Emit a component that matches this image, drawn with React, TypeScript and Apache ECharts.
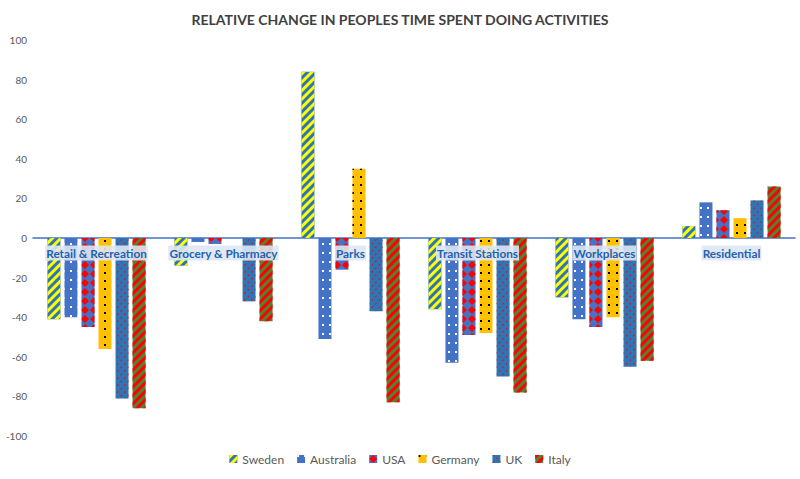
import React, { useEffect, useRef } from "react";
import * as echarts from "echarts";

const categories = [
  "Retail & Recreation",
  "Grocery & Pharmacy",
  "Parks",
  "Transit Stations",
  "Workplaces",
  "Residential",
];
const countries = ["Sweden", "Australia", "USA", "Germany", "UK", "Italy"];
const sweden = [-41, -14, 84, -36, -30, 6];
const australia = [-40, -2, -51, -63, -41, 18];
const usa = [-45, -3, -16, -49, -45, 14];
const germany = [-56, 0, 35, -48, -40, 10];
const uk = [-81, -32, -37, -70, -65, 19];
const italy = [-86, -42, -83, -78, -62, 26];
const yTicks = { min: -100, max: 100, interval: 20 };

const seriesData = [sweden, australia, usa, germany, uk, italy];

const R = -Math.PI / 4;
const styles: any[] = [
  {
    color: "#2E75B6",
    decal: { symbol: "rect", symbolSize: 1, color: "#FFFF00", dashArrayX: [1, 0], dashArrayY: [2.5, 2.5], rotation: R },
  },
  {
    color: "#4472C4",
    decal: { symbol: "rect", symbolSize: 1, color: "#FFFFFF", dashArrayX: [1.5, 5], dashArrayY: [1.5, 6.5], rotation: 0 },
  },
  {
    color: "#4472C4",
    decal: { symbol: "diamond", symbolSize: 1, color: "#FF0000", dashArrayX: [8, 0.01], dashArrayY: [8, 0.01], rotation: 0 },
  },
  {
    color: "#FFC000",
    decal: { symbol: "rect", symbolSize: 1, color: "#000000", dashArrayX: [1.5, 6], dashArrayY: [1.5, 6], rotation: 0 },
  },
  {
    color: "#2E75B6",
    decal: { symbol: "rect", symbolSize: 1, color: "#FF0000", dashArrayX: [[2, 3]], dashArrayY: [1, 4], rotation: R },
  },
  {
    color: "#548235",
    decal: { symbol: "rect", symbolSize: 1, color: "#FF0000", dashArrayX: [1, 0], dashArrayY: [2.5, 3], rotation: R },
  },
];

export default function App() {
  const ref = useRef<HTMLDivElement>(null);
  useEffect(() => {
    if (!ref.current) return;
    const chart = echarts.init(ref.current, null, { renderer: "svg" });
    chart.setOption({
      animation: false,
      backgroundColor: "#FFFFFF",
      textStyle: { fontFamily: "Lato, 'Open Sans', sans-serif" },
      title: {
        text: "RELATIVE CHANGE IN PEOPLES TIME SPENT DOING ACTIVITIES",
        left: "center",
        top: 7,
        textStyle: { fontSize: 14, fontWeight: "bold", color: "#404040", fontFamily: "Lato, sans-serif" },
      },
      legend: {
        bottom: 9,
        left: "center",
        icon: "rect",
        itemWidth: 8,
        itemHeight: 8,
        itemGap: 13,
        textStyle: { color: "#595959", fontSize: 12 },
        data: countries,
      },
      grid: { left: 33, right: 5, top: 40, bottom: 43 },
      xAxis: {
        type: "category",
        data: categories,
        axisLine: { onZero: true, lineStyle: { color: "#4472C4", width: 1.5 } },
        axisTick: { show: false },
        axisLabel: { show: false },
        splitLine: { show: false },
      },
      yAxis: {
        type: "value",
        min: yTicks.min,
        max: yTicks.max,
        interval: yTicks.interval,
        axisLine: { show: false },
        axisTick: { show: false },
        splitLine: { show: false },
        axisLabel: { color: "#595959", fontSize: 10, margin: 6 },
      },
      series: [
        ...countries.map((name, i) => ({
          name,
          type: "bar",
          data: seriesData[i],
          barWidth: 13,
          barGap: "31%",
          itemStyle: { ...styles[i] },
        })),
        {
          name: "categoryLabels",
          type: "scatter",
          z: 20,
          symbolSize: 1,
          itemStyle: { color: "rgba(0,0,0,0)" },
          silent: true,
          data: categories.map((c) => [c, 0]),
          label: {
            show: true,
            position: "bottom",
            distance: 7,
            formatter: (p: any) => p.data[0],
            color: "#1F62B0",
            fontWeight: "bold",
            fontSize: 11.8,
            fontFamily: "Lato, sans-serif",
            opacity: 1,
            backgroundColor: "rgba(222,231,243,0.9)",
            padding: [2, 1, 1, 1],
          },
        },
      ],
    });
    return () => chart.dispose();
  }, []);
  return <div ref={ref} style={{ position: "fixed", left: 0, top: 0, width: 800, height: 479 }} />;
}
